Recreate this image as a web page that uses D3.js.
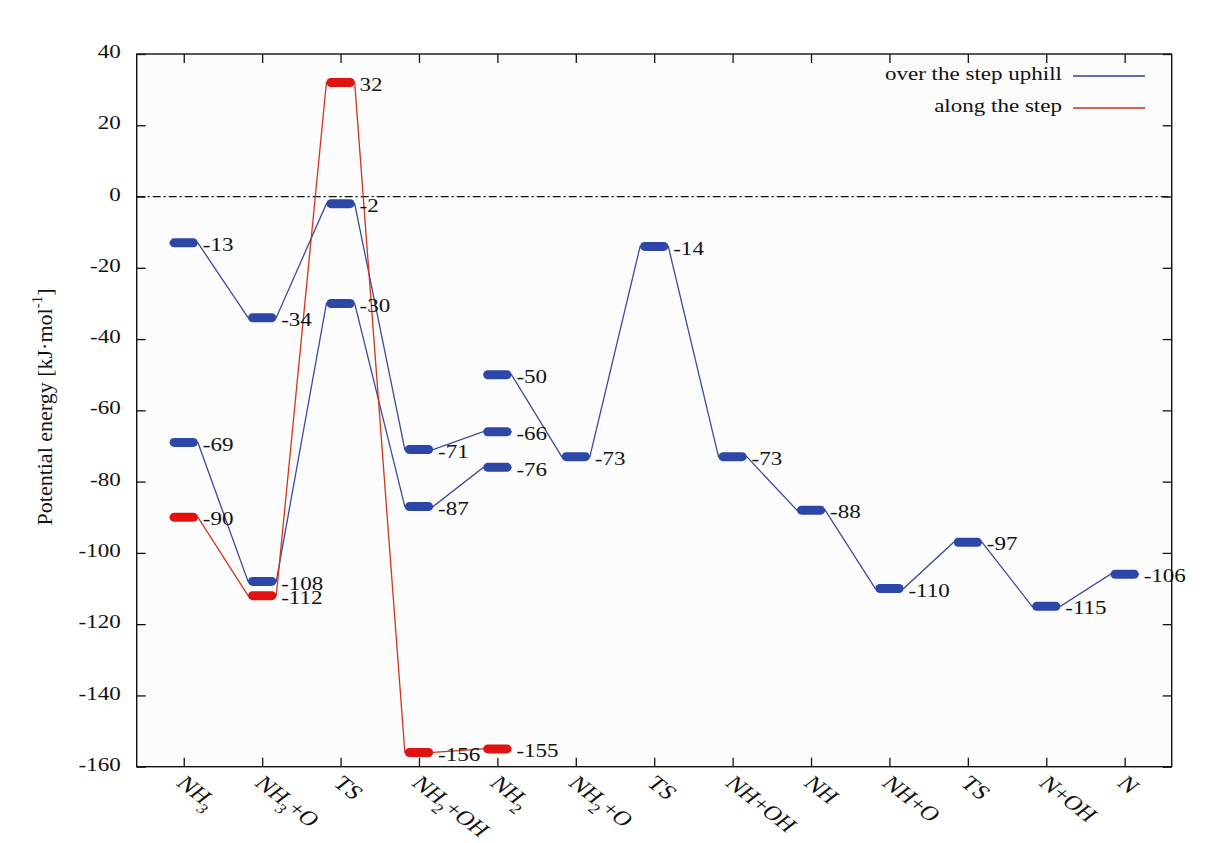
<!DOCTYPE html>
<html>
<head>
<meta charset="utf-8">
<script src="https://cdn.jsdelivr.net/npm/d3@7"></script>
<style>
  html, body { margin: 0; padding: 0; background: #ffffff; }
  svg { display: block; }
  text { font-family: "Liberation Serif", "DejaVu Serif", serif; fill: #111; }
</style>
</head>
<body>
<svg id="chart" width="1232" height="843"></svg>
<script>
// ---------------- data ----------------
const categories = ["NH_3", "NH_3+O", "TS", "NH_2+OH", "NH_2", "NH_2+O", "TS", "NH+OH", "NH", "NH+O", "TS", "N+OH", "N"];
const yTicks = [40, 20, 0, -20, -40, -60, -80, -100, -120, -140, -160];

// "over the step uphill" (blue) — three branches
const blueAStart = 0;
const blueA = [-13, -34, -2, -71, -66];
const blueBStart = 0;
const blueB = [-69, -108, -30, -87, -76];
const blueCStart = 4;
const blueC = [-50, -73, -14, -73, -88, -110, -97, -115, -106];
// "along the step" (red)
const redStart = 0;
const red = [-90, -112, 32, -156, -155];

const legendLabels = ["over the step uphill", "along the step"];

// ---------------- layout ----------------
(function () {
const svg = d3.select("#chart");
const pL = 136.7, pR = 1171.7, pT = 54, pB = 766.7;
const x = d3.scaleLinear().domain([-0.6, 12.6]).range([pL, pR]);
const y = d3.scaleLinear().domain([-160, 40]).range([pB, pT]);
const halfW = 0.18;
const SX = 1.28;   // horizontal stretch of the original raster text
const FS = 18;

const blueBar = "#2c47a6", blueLine = "#3a4a9e";
const redBar = "#e01212", redLine = "#d2341c";

function addText(px, py, str, opt) {
  opt = opt || {};
  const sx = opt.sx || SX;
  const g = svg.append("g")
    .attr("transform", `translate(${px},${py}) scale(${sx},1)` + (opt.rotate ? ` rotate(${opt.rotate})` : ""));
  const t = g.append("text")
    .attr("text-anchor", opt.anchor || "start")
    .attr("dominant-baseline", opt.baseline || "middle")
    .style("font-size", (opt.size || FS) + "px");
  if (str !== null) t.text(str);
  return t;
}

svg.append("rect").attr("x", 0).attr("y", 0).attr("width", 1232).attr("height", 843).attr("fill", "#ffffff");
svg.append("rect").attr("x", pL).attr("y", pT).attr("width", pR - pL).attr("height", pB - pT).attr("fill", "#fcfcfc");

// zero line (dash-dot)
svg.append("line")
  .attr("x1", pL).attr("x2", pR)
  .attr("y1", y(0)).attr("y2", y(0))
  .attr("stroke", "#111").attr("stroke-width", 1.2)
  .attr("stroke-dasharray", "8,3,2,3");

// axes (inward ticks on all four sides)
const axisL = d3.axisLeft(y).tickValues(yTicks).tickSize(-9).tickFormat("");
const axisR = d3.axisRight(y).tickValues(yTicks).tickSize(-9).tickFormat("");
const axisB = d3.axisBottom(x).tickValues(d3.range(categories.length)).tickSize(-9).tickFormat("");
const axisT = d3.axisTop(x).tickValues(d3.range(categories.length)).tickSize(-9).tickFormat("");

function styleAxis(g) {
  g.select(".domain").remove();
  g.selectAll(".tick line").attr("stroke", "#111").attr("stroke-width", 1.3);
}
svg.append("g").attr("transform", `translate(${pL},0)`).call(axisL).call(styleAxis);
svg.append("g").attr("transform", `translate(${pR},0)`).call(axisR).call(styleAxis);
svg.append("g").attr("transform", `translate(0,${pB})`).call(axisB).call(styleAxis);
svg.append("g").attr("transform", `translate(0,${pT})`).call(axisT).call(styleAxis);

// y tick labels
yTicks.forEach(v => addText(pL - 16, y(v), String(v), { anchor: "end" }));

// border
svg.append("rect").attr("x", pL).attr("y", pT).attr("width", pR - pL).attr("height", pB - pT)
  .attr("fill", "none").attr("stroke", "#111").attr("stroke-width", 1.4);

// x tick labels (rotated, with subscripts)
categories.forEach((c, i) => {
  const t = addText(x(i) + 5, pB + 7, null, { rotate: 45, baseline: "auto", size: 20 });
  t.attr("dy", "0.75em");
  const parts = c.split(/(_\d)/).filter(p => p.length);
  let shifted = false;
  parts.forEach(p => {
    if (p.startsWith("_")) {
      t.append("tspan").attr("dy", 7).style("font-size", "14px").text(p.slice(1));
      shifted = true;
    } else {
      const ts = t.append("tspan").text(p);
      if (shifted) { ts.attr("dy", -7); shifted = false; }
    }
  });
});

// y label
const yl = addText(47, 407, null, { rotate: -90, anchor: "middle", size: 22, sx: 1 });
yl.append("tspan").text("Potential energy [kJ·mol");
yl.append("tspan").attr("dy", -8).style("font-size", "15px").text("-1");
yl.append("tspan").attr("dy", 8).text("]");

// series drawing
function drawSeries(start, vals, lineColor, barColor) {
  const pts = [];
  vals.forEach((v, i) => {
    pts.push([x(start + i - halfW), y(v)]);
    pts.push([x(start + i + halfW), y(v)]);
  });
  svg.append("path")
    .attr("d", d3.line()(pts))
    .attr("fill", "none").attr("stroke", lineColor).attr("stroke-width", 1.3);
  return () => {
    vals.forEach((v, i) => {
      svg.append("line")
        .attr("x1", x(start + i - halfW) + 4.5).attr("x2", x(start + i + halfW) - 4.5)
        .attr("y1", y(v)).attr("y2", y(v))
        .attr("stroke", barColor).attr("stroke-width", 9).attr("stroke-linecap", "round");
      addText(x(start + i) + 19, y(v) + 4, String(v));
    });
  };
}
const bars = [];
bars.push(drawSeries(blueAStart, blueA, blueLine, blueBar));
bars.push(drawSeries(blueBStart, blueB, blueLine, blueBar));
bars.push(drawSeries(blueCStart, blueC, blueLine, blueBar));
bars.push(drawSeries(redStart, red, redLine, redBar));
bars.forEach(f => f());

// legend
const legendColors = ["#2d3f96", "#c8321e"];
const legendY = [76, 108];
legendLabels.forEach((l, i) => {
  addText(1062, legendY[i], l, { anchor: "end" });
  svg.append("line").attr("x1", 1073).attr("x2", 1145).attr("y1", legendY[i]).attr("y2", legendY[i])
    .attr("stroke", legendColors[i]).attr("stroke-width", 1.4);
});
})();
</script>
</body>
</html>
